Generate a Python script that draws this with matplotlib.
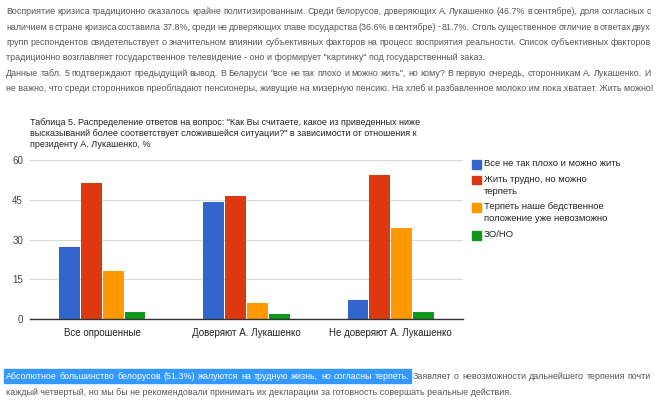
import numpy as np
import matplotlib
matplotlib.use("Agg")
import matplotlib.pyplot as plt
from matplotlib.patches import Rectangle

W, H = 659, 400

categories = ["Все опрошенные", "Доверяют А. Лукашенко", "Не доверяют А. Лукашенко"]
series_names = [
    "Все не так плохо и можно жить",
    "Жить трудно, но можно\nтерпеть",
    "Терпеть наше бедственное\nположение уже невозможно",
    "ЗО/НО",
]
vals_ok = [27.1, 44.2, 7.4]
vals_hard = [51.3, 46.5, 54.3]
vals_bad = [18.3, 6.3, 34.3]
vals_na = [2.8, 2.0, 2.8]
colors = ["#3366cc", "#dc3912", "#ff9900", "#109618"]
yticks = [0, 15, 30, 45, 60]

title = ('Таблица 5. Распределение ответов на вопрос: "Как Вы считаете, какое из приведенных ниже\n'
         'высказываний более соответствует сложившейся ситуации?" в зависимости от отношения к\n'
         'президенту А. Лукашенко, %')

top_lines = [
    ("Восприятие кризиса традиционно оказалось крайне политизированным. Среди белорусов, доверяющих А. Лукашенко (46.7% в сентябре), доля согласных с", True),
    ("наличием в стране кризиса составила 37.8%, среди не доверяющих главе государства (36.6% в сентябре) - 81.7%. Столь существенное отличие в ответах двух", True),
    ("групп респондентов свидетельствует о значительном влиянии субъективных факторов на процесс восприятия реальности. Список субъективных факторов", True),
    ('традиционно возглавляет государственное телевидение - оно и формирует "картинку" под государственный заказ.', False),
    ('Данные табл. 5 подтверждают предыдущий вывод. В Беларуси "все не так плохо и можно жить", но кому? В первую очередь, сторонникам А. Лукашенко. И', True),
    ("не важно, что среди сторонников преобладают пенсионеры, живущие на мизерную пенсию. На хлеб и разбавленное молоко им пока хватает. Жить можно!", False),
]
bottom_lines = [
    ("Абсолютное большинство белорусов (51.3%) жалуются на трудную жизнь, но согласны терпеть. Заявляет о невозможности дальнейшего терпения почти", True),
    ("каждый четвертый, но мы бы не рекомендовали принимать их декларации за готовность совершать реальные действия.", False),
]

fig = plt.figure(figsize=(W / 100, H / 100), dpi=100)
fig.patch.set_facecolor("white")
renderer = fig.canvas.get_renderer()

txt_kw = dict(fontsize=10, family="Liberation Sans", color="#555555", va="baseline")

# pick a font size so the last (unjustified) line is as long as in the page
probe = fig.text(0, 0, top_lines[5][0], **txt_kw)
pw = probe.get_window_extent(renderer).width
probe.remove()
txt_kw["fontsize"] = 10 * 643 / pw


def put_line(text, y, justify, x0=6, x1=651, word_colors=None):
    # y is the baseline in pixels from the top
    words = text.split(" ")
    if not justify:
        o = fig.text(x0 / W, 1 - y / H, text, **txt_kw)
        return [(x0, x0 + o.get_window_extent(renderer).width)]
    objs = [fig.text(0, 0, w, **txt_kw) for w in words]
    widths = [o.get_window_extent(renderer).width for o in objs]
    gap = (x1 - x0 - sum(widths)) / (len(words) - 1)
    x = x0
    spans = []
    for i, (o, w) in enumerate(zip(objs, widths)):
        o.set_position((x / W, 1 - y / H))
        if word_colors and i in word_colors:
            o.set_color(word_colors[i])
        spans.append((x, x + w))
        x += w + gap
    return spans


top_y = [14, 29.5, 45, 60, 75.5, 91]
for (line, just), y in zip(top_lines, top_y):
    put_line(line, y, just)

spans = put_line(bottom_lines[0][0], 379, True, word_colors={i: "white" for i in range(11)})
hl_end = spans[10][1]
fig.patches.append(Rectangle((4 / W, 1 - 383 / H), (hl_end + 1 - 4) / W, 14 / H,
                             transform=fig.transFigure, color="#3399ff", zorder=0))
put_line(bottom_lines[1][0], 395, False)

# chart
ax = fig.add_axes([30 / W, 1 - 319.3 / H, 433 / W, 159.3 / H])
x = np.arange(len(categories))
slot = 0.152
all_vals = [vals_ok, vals_hard, vals_bad, vals_na]
for i, (v, c) in enumerate(zip(all_vals, colors)):
    ax.bar(x + (i - 1.5) * slot, v, width=slot - 0.008, color=c, zorder=3)

ax.set_xlim(-0.5, 2.5)
ax.set_ylim(0, 60)
ax.set_yticks(yticks)
ax.set_yticklabels([str(t) for t in yticks], fontsize=7, color="#444444", family="Liberation Sans")
ax.set_xticks(x)
ax.set_xticklabels(categories, fontsize=7, color="#222222", family="Liberation Sans")
ax.tick_params(length=0, pad=5)
ax.tick_params(axis="x", pad=6)
for s in ["top", "right", "left"]:
    ax.spines[s].set_visible(False)
ax.spines["bottom"].set_color("#333333")
ax.spines["bottom"].set_linewidth(1.0)
ax.spines["bottom"].set_zorder(4)
ax.grid(axis="y", color="#d9d9d9", linewidth=0.8, zorder=0)
ax.set_facecolor("white")

fig.text(30 / W, 1 - 118 / H, title, fontsize=6.5, family="Liberation Sans", color="#222222",
         va="top", linespacing=1.3)

legend_y = [164, 180, 207, 235]
for name, c, y in zip(series_names, colors, legend_y):
    fig.patches.append(Rectangle((472 / W, 1 - (y + 4.5) / H), 9 / W, 9 / H,
                                 transform=fig.transFigure, color=c))
    fig.text(484 / W, 1 - (y - 5) / H, name, fontsize=6.8, family="Liberation Sans",
             color="#222222", va="top", linespacing=1.45)

fig.savefig("out.png", dpi=100)
